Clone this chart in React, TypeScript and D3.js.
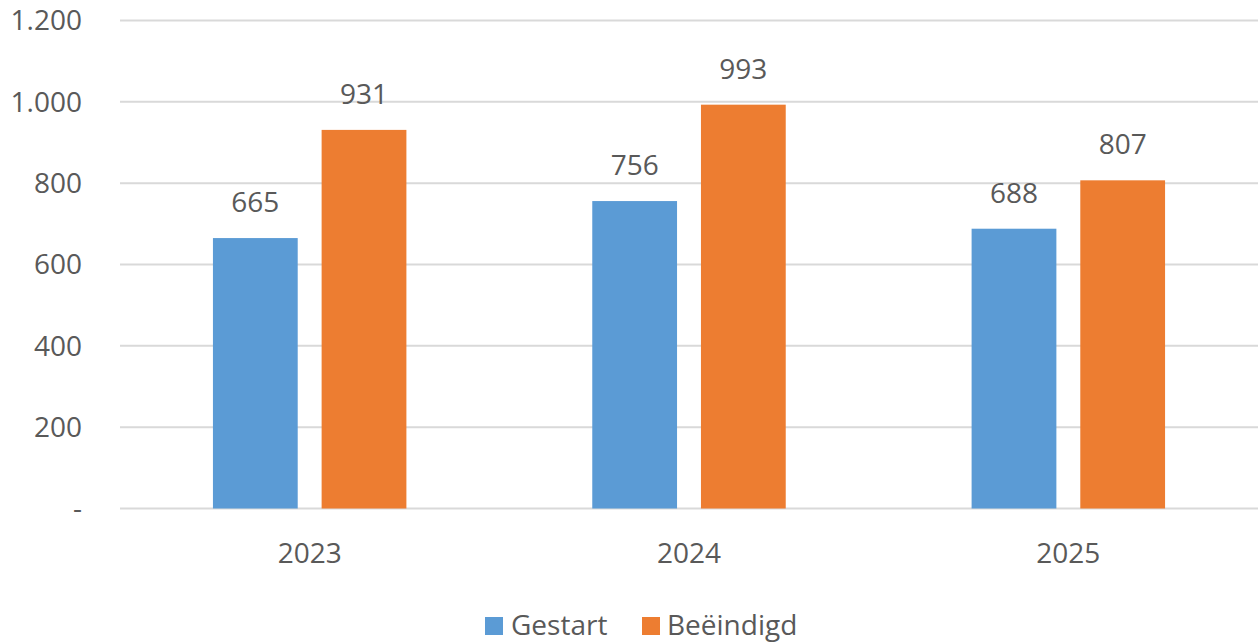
import React from 'react';
import * as d3 from 'd3';

// jaren en reeksen
const years = ['2023', '2024', '2025'];
const seriesNames = ['Gestart', 'Beëindigd'];
const gestart = [665, 756, 688];
const beeindigd = [931, 993, 807];
const yTicks = [0, 200, 400, 600, 800, 1000, 1200];

const colors = ['#5B9BD5', '#ED7D31'];
const textColor = '#595959';
const gridColor = '#D9D9D9';
const FONT = '"Open Sans", sans-serif';

const WIDTH = 1258;
const HEIGHT = 643;
const margin = { top: 20.5, right: 0, bottom: 134.5, left: 120 };

const nl = d3.formatLocale({
  decimal: ',',
  thousands: '.',
  grouping: [3],
  currency: ['€', '']
});
const fmt = nl.format(',d');

export default function App() {
  const values = [gestart, beeindigd];

  const xScale = d3
    .scaleBand()
    .domain(years)
    .range([margin.left, WIDTH - margin.right])
    .paddingInner(0.49)
    .paddingOuter(0.245);

  const xSub = d3
    .scaleBand()
    .domain(seriesNames)
    .range([0, xScale.bandwidth()])
    .paddingInner(0.22)
    .paddingOuter(0);

  const yScale = d3
    .scaleLinear()
    .domain([0, 1200])
    .range([HEIGHT - margin.bottom, margin.top]);

  return (
    <svg
      width={WIDTH}
      height={HEIGHT}
      viewBox={`0 0 ${WIDTH} ${HEIGHT}`}
      style={{ position: 'absolute', left: 0, top: 0, background: '#fff' }}
      fontFamily={FONT}
    >
      {/* rasterlijnen + y-as labels */}
      {yTicks.map(t => (
        <g key={t}>
          <line
            x1={margin.left}
            x2={WIDTH - margin.right}
            y1={yScale(t)}
            y2={yScale(t)}
            stroke={gridColor}
            strokeWidth={2}
          />
          <text
            x={82}
            y={yScale(t)}
            dy="0.35em"
            textAnchor="end"
            fontSize={28}
            fill={textColor}
          >
            {t === 0 ? '-' : fmt(t)}
          </text>
        </g>
      ))}

      {/* staven */}
      {years.map((yr, i) => (
        <g key={yr} transform={`translate(${xScale(yr)},0)`}>
          {seriesNames.map((s, j) => {
            const v = values[j][i];
            const x = xSub(s) || 0;
            return (
              <g key={s}>
                <rect
                  x={x}
                  y={yScale(v)}
                  width={xSub.bandwidth()}
                  height={yScale(0) - yScale(v)}
                  fill={colors[j]}
                />
                <text
                  x={x + xSub.bandwidth() / 2}
                  y={yScale(v) - 26}
                  textAnchor="middle"
                  fontSize={28}
                  fill={textColor}
                >
                  {v}
                </text>
              </g>
            );
          })}
          <text
            x={xScale.bandwidth() / 2}
            y={563}
            textAnchor="middle"
            fontSize={28}
            fill={textColor}
          >
            {yr}
          </text>
        </g>
      ))}

      {/* legenda */}
      <g>
        <rect x={485} y={617} width={18} height={18} fill={colors[0]} />
        <text x={511} y={635} fontSize={28} fill={textColor}>
          {seriesNames[0]}
        </text>
        <rect x={642} y={617} width={18} height={18} fill={colors[1]} />
        <text x={667} y={635} fontSize={28} fill={textColor}>
          {seriesNames[1]}
        </text>
      </g>
    </svg>
  );
}
